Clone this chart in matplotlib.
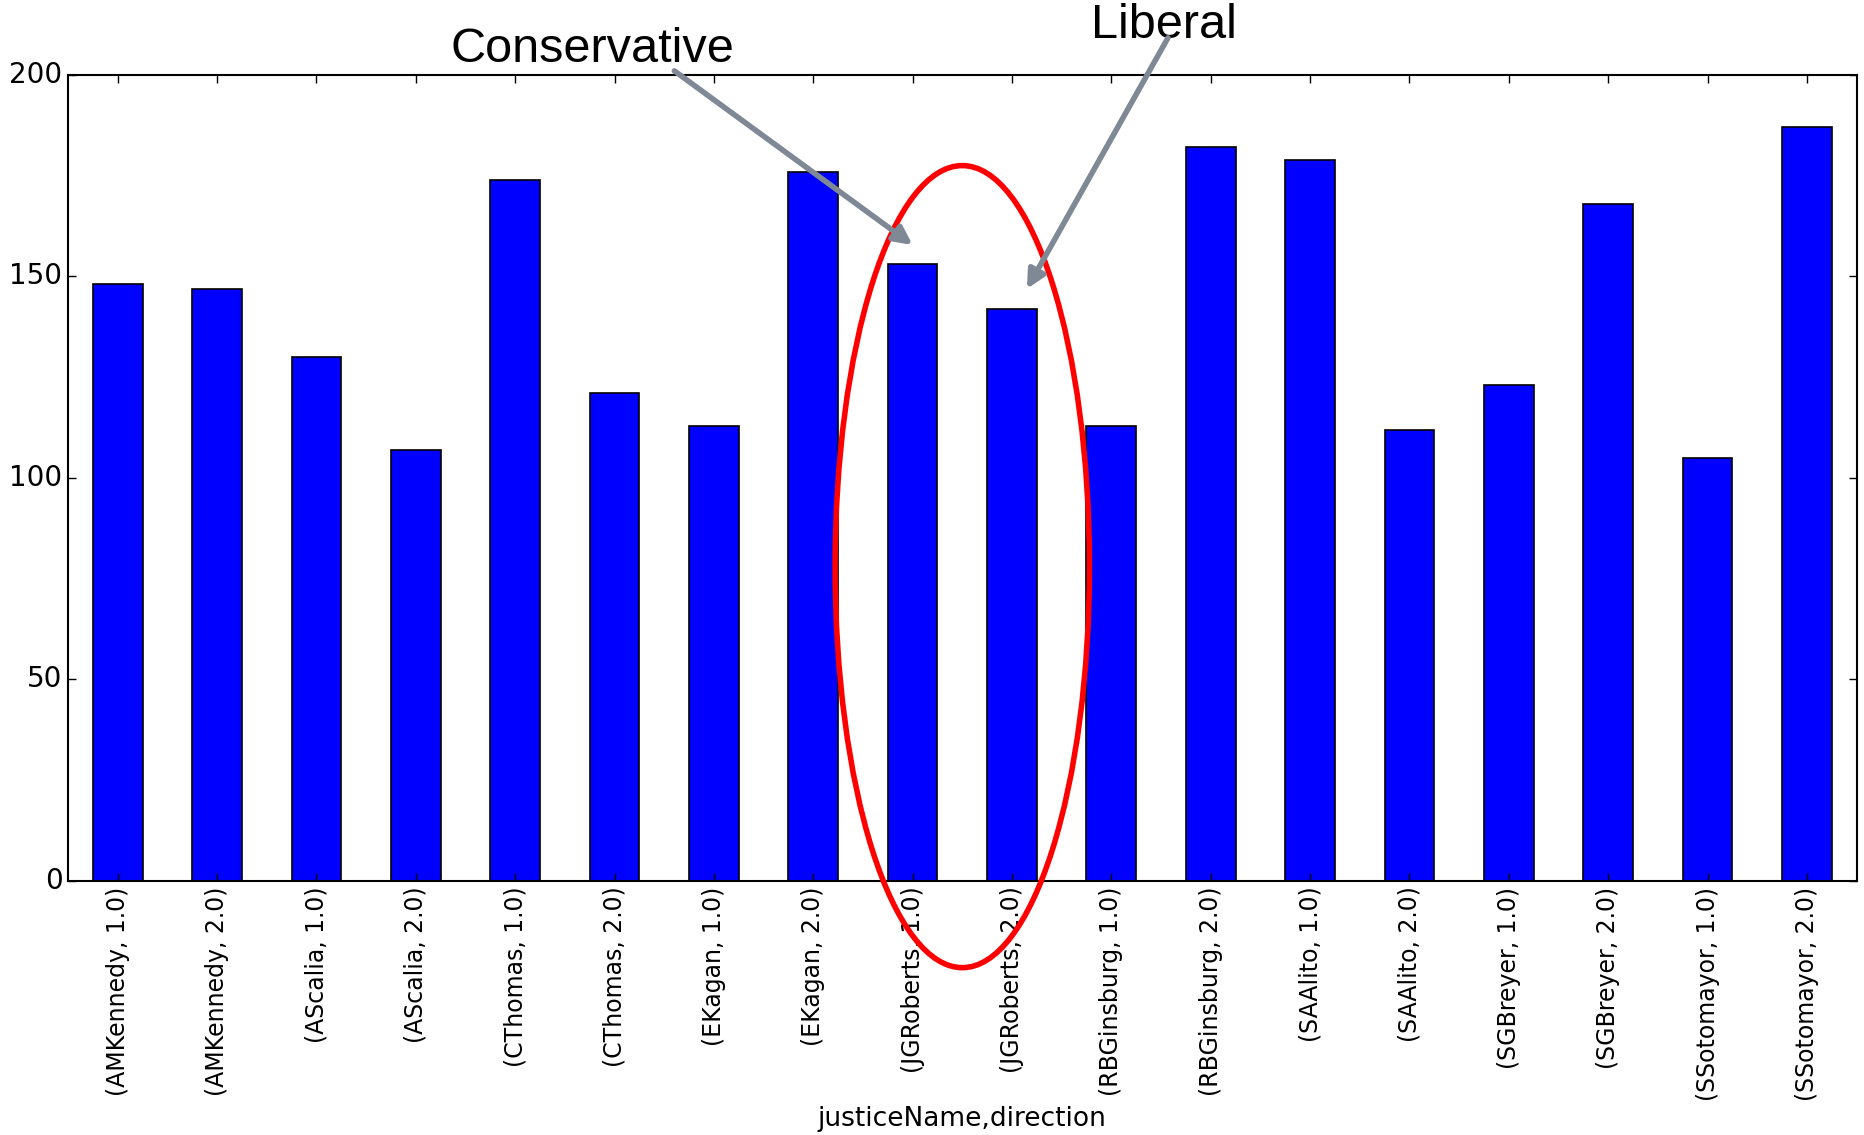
import matplotlib
matplotlib.use("Agg")
import matplotlib.pyplot as plt
from matplotlib.patches import Ellipse

justices = ["AMKennedy", "AMKennedy", "AScalia", "AScalia", "CThomas", "CThomas",
            "EKagan", "EKagan", "JGRoberts", "JGRoberts", "RBGinsburg", "RBGinsburg",
            "SAAlito", "SAAlito", "SGBreyer", "SGBreyer", "SSotomayor", "SSotomayor"]
directions = [1.0, 2.0] * 9
counts = [148, 147, 130, 107, 174, 121, 113, 176, 153, 142,
          113, 182, 179, 112, 123, 168, 105, 187]
tick_labels = [f"({j}, {d})" for j, d in zip(justices, directions)]

plt.style.use("classic")
fig = plt.figure(figsize=(18.64, 11.35), dpi=100, facecolor="white")
ax = fig.add_axes([0.0365, 0.2238, 0.9595, 0.7102])

x = list(range(len(counts)))
ax.bar(x, counts, width=0.5, align="center", color="#0000ff",
       edgecolor="black", linewidth=1.2)
ax.set_xlim(-0.5, len(counts) - 0.5)
ax.set_ylim(0, 200)
ax.set_yticks([0, 50, 100, 150, 200])
ax.set_xticks(x)
ax.set_xticklabels(tick_labels, rotation=90, fontsize=17)
ax.tick_params(axis="y", labelsize=20)
ax.tick_params(length=6, width=1)
ax.set_xlabel("justiceName,direction", fontsize=19, labelpad=4)
for s in ax.spines.values():
    s.set_linewidth(1.5)

# highlight the Roberts pair
ax.add_patch(Ellipse((8.5, 78), 2.56, 199, fill=False, edgecolor="red",
                     linewidth=4, clip_on=False, zorder=5))

arrow_kw = dict(arrowstyle="-|>,head_length=0.9,head_width=0.45",
                color="#7f8996", lw=4, shrinkA=0, shrinkB=0)
ax.annotate("", xy=(8.0, 157.8), xytext=(0.339, 1.005),
            textcoords="axes fraction", arrowprops=arrow_kw,
            annotation_clip=False, zorder=6)
ax.annotate("", xy=(9.15, 146.9), xytext=(0.615, 1.046),
            textcoords="axes fraction", arrowprops=arrow_kw,
            annotation_clip=False, zorder=6)

ax.text(0.293, 1.032, "Conservative", transform=ax.transAxes, ha="center",
        va="center", fontsize=35, family="Liberation Sans")
ax.text(0.613, 1.061, "Liberal", transform=ax.transAxes, ha="center",
        va="center", fontsize=35, family="Liberation Sans")

fig.savefig("out.png", dpi=100, facecolor="white")
